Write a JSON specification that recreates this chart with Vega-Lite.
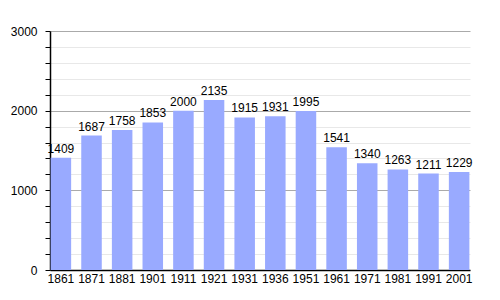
{
  "$schema": "https://vega.github.io/schema/vega-lite/v6.json",
  "width": 420,
  "height": 239,
  "autosize": {"type": "none"},
  "padding": {"left": 50, "top": 31, "right": 30, "bottom": 30},
  "background": "white",
  "config": {"view": {"stroke": null}, "font": "Liberation Sans"},
  "data": {"values": [
    {"year": "1861", "pop": 1409},
    {"year": "1871", "pop": 1687},
    {"year": "1881", "pop": 1758},
    {"year": "1901", "pop": 1853},
    {"year": "1911", "pop": 2000},
    {"year": "1921", "pop": 2135},
    {"year": "1931", "pop": 1915},
    {"year": "1936", "pop": 1931},
    {"year": "1951", "pop": 1995},
    {"year": "1961", "pop": 1541},
    {"year": "1971", "pop": 1340},
    {"year": "1981", "pop": 1263},
    {"year": "1991", "pop": 1211},
    {"year": "2001", "pop": 1229}
  ]},
  "encoding": {
    "x": {"field": "year", "type": "ordinal", "sort": null,
      "scale": {"paddingInner": 0.33, "paddingOuter": 0.02},
      "axis": {"title": null, "labelAngle": 0, "ticks": false, "domainColor": "black", "domainWidth": 1.5, "labelFontSize": 12, "labelColor": "black", "labelPadding": 3, "grid": false}},
    "y": {"field": "pop", "type": "quantitative",
      "scale": {"domain": [0, 3000], "nice": false},
      "axis": {"title": null,
        "values": [0,200,400,600,800,1000,1200,1400,1600,1800,2000,2200,2400,2600,2800,3000],
        "labelExpr": "datum.value % 1000 === 0 ? datum.label : ''",
        "format": "d",
        "grid": true,
        "gridColor": {"condition": {"test": "datum.value % 1000 === 0", "value": "#aaaaaa"}, "value": "#e8e8e8"},
        "tickColor": "black", "tickSize": 5,
        "domainColor": "black", "domainWidth": 1.5,
        "labelFontSize": 12, "labelColor": "black", "labelPadding": 8}}
  },
  "layer": [
    {"mark": {"type": "bar", "color": "#99aaff"}, "encoding": {"y": {"field": "pop", "type": "quantitative"}}},
    {"mark": {"type": "text", "baseline": "bottom", "dy": -2, "fontSize": 12, "color": "black"},
     "encoding": {"text": {"field": "pop", "type": "quantitative", "format": "d"}}}
  ]
}
